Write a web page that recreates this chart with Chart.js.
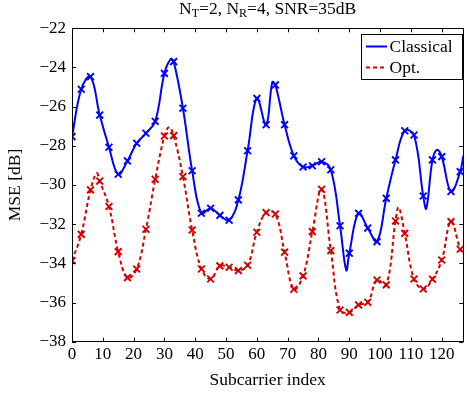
<!DOCTYPE html>
<html>
<head>
<meta charset="utf-8">
<script src="https://cdn.jsdelivr.net/npm/chart.js"></script>
<style>
html, body { margin: 0; padding: 0; background: #fff; overflow: hidden; }
#wrap { width: 468px; height: 394px; overflow: hidden; }
</style>
</head>
<body>
<div id="wrap"><canvas id="mseChart" width="470" height="394"></canvas></div>
<script>

/* data */

const subcarriers = [0, 3, 6, 9, 12, 15, 18, 21, 24, 27, 30, 33, 36, 39, 42, 45, 48, 51, 54, 57, 60,
  63, 66, 69, 72, 75, 78, 81, 84, 87, 90, 93, 96, 99, 102, 105, 108, 111, 114, 117, 120, 123, 126];

const classicalMse = [-27.53, -25.11, -24.47, -26.43, -28.07, -29.45, -28.77, -27.87, -27.36, -26.75, -24.30,
  -23.70, -26.08, -29.27, -31.44, -31.19, -31.55, -31.80, -30.76, -28.25, -25.58,
  -26.92, -24.89, -26.92, -28.51, -29.08, -29.02, -28.81, -29.22, -32.08, -33.48,
  -31.44, -32.20, -32.89, -30.68, -28.72, -27.23, -27.45, -30.56, -28.72, -28.55, -30.33, -29.32];

const optMse = [-33.86, -32.52, -30.25, -29.80, -31.10, -33.40, -34.73, -34.29, -32.26, -29.71, -27.50,
  -27.48, -29.57, -32.30, -34.29, -34.80, -34.13, -34.20, -34.37, -34.10, -32.41,
  -31.41, -31.48, -33.43, -35.32, -34.64, -32.38, -30.22, -33.35, -36.38, -36.50,
  -36.12, -35.99, -34.85, -35.10, -31.84, -32.47, -34.80, -35.31, -34.81, -33.83, -31.87, -33.28];

// curve points between the markers (peaks / dips), no marker drawn
const classicalCurveX = [32, 65, 89, 115, 118.5, 127];
const classicalCurveY = [-23.57, -24.75, -34.35, -31.2, -28.2, -28.5];
const optCurveX = [8, 31.5, 106, 127];
const optCurveY = [-29.4, -27.05, -31.14, -33.5];

const xTicks = [0, 10, 20, 30, 40, 50, 60, 70, 80, 90, 100, 110, 120];
const yTicks = [-38, -36, -34, -32, -30, -28, -26, -24, -22];

const FONT = "'Liberation Serif', 'Times New Roman', serif";


function buildSeries(xs, ys, cx, cy){
  let pts = xs.map((x,i) => ({x: x, y: ys[i], m: true}));
  cx.forEach((x,i) => pts.push({x: x, y: cy[i], m: false}));
  pts.sort((a,b) => a.x - b.x);
  return pts;
}


/* frame, inward ticks, title, legend */

const decor = {
  id: "decor",
  afterDatasetsDraw(chart){
    const c = chart.ctx;
    const a = chart.chartArea;
    const xs = chart.scales.x, ys = chart.scales.y;
    c.save();
    c.strokeStyle = "#000";
    c.lineWidth = 1;
    c.beginPath();
    xTicks.forEach(v => {
      const px = Math.round(xs.getPixelForValue(v)) + 0.5;
      c.moveTo(px, a.bottom); c.lineTo(px, a.bottom - 4);
      c.moveTo(px, a.top); c.lineTo(px, a.top + 4);
    });
    yTicks.forEach(v => {
      const py = Math.round(ys.getPixelForValue(v)) + 0.5;
      c.moveTo(a.left, py); c.lineTo(a.left + 4, py);
      c.moveTo(a.right, py); c.lineTo(a.right - 4, py);
    });
    c.stroke();
    c.strokeRect(Math.round(a.left) + 0.5, Math.round(a.top) + 0.5,
      Math.round(a.right - a.left), Math.round(a.bottom - a.top));
    c.restore();
  },
  afterDraw(chart){
    const c = chart.ctx;
    const a = chart.chartArea;
    c.save();
    c.fillStyle = "#000";

    // title with subscripts
    const parts = [["N",0],["T",1],["=2, N",0],["R",1],["=4, SNR=35dB",0]];
    const big = "17.5px " + FONT, small = "12px " + FONT;
    let total = 0;
    parts.forEach(p => { c.font = p[1] ? small : big; total += c.measureText(p[0]).width; });
    let tx = (a.left + a.right)/2 - total/2;
    c.textBaseline = "alphabetic";
    c.textAlign = "left";
    parts.forEach(p => {
      c.font = p[1] ? small : big;
      c.fillText(p[0], tx, p[1] ? 17 : 13.5);
      tx += c.measureText(p[0]).width;
    });

    // axis titles
    c.font = "17.5px " + FONT;
    c.textAlign = "center";
    c.textBaseline = "middle";
    c.fillText("Subcarrier index", (a.left + a.right)/2, 380.5);
    c.save();
    c.translate(15, (a.top + a.bottom)/2);
    c.rotate(-Math.PI/2);
    c.fillText("MSE [dB]", 0, 0);
    c.restore();

    // legend box
    const bx = 361.5, by = 34.5, bw = 101, bh = 45;
    c.fillStyle = "#fff";
    c.fillRect(bx, by, bw, bh);
    c.strokeStyle = "#000";
    c.lineWidth = 1;
    c.strokeRect(bx, by, bw, bh);
    const rows = [46.5, 67.5];
    chart.data.datasets.forEach((ds, i) => {
      c.strokeStyle = ds.borderColor;
      c.lineWidth = ds.borderWidth;
      c.setLineDash(ds.borderDash || []);
      c.beginPath();
      c.moveTo(366, rows[i]); c.lineTo(387, rows[i]);
      c.stroke();
      c.setLineDash([]);
      c.fillStyle = "#000";
      c.font = "17.5px " + FONT;
      c.textAlign = "left";
      c.textBaseline = "middle";
      c.fillText(ds.label, 389.5, rows[i] + 0.5);
    });
    c.restore();
  }
};


/* Chart */

const ctx = document.getElementById("mseChart").getContext("2d");

const chart = new Chart(ctx, {
  type: "line",
  data: {
    datasets: [{
      label: "Classical",
      data: buildSeries(subcarriers, classicalMse, classicalCurveX, classicalCurveY),
      borderColor: "#0000ff",
      borderWidth: 2,
      tension: 0.4,
      pointStyle: "crossRot",
      pointRadius: c => (c.raw && c.raw.m) ? 4.8 : 0,
      pointBorderWidth: 1.9,
      pointBorderColor: "#0000ff",
      fill: false
    },{
      label: "Opt.",
      data: buildSeries(subcarriers, optMse, optCurveX, optCurveY),
      borderColor: "#d40000",
      borderWidth: 2,
      borderDash: [4, 3],
      tension: 0.4,
      pointStyle: "crossRot",
      pointRadius: c => (c.raw && c.raw.m) ? 4.8 : 0,
      pointBorderWidth: 1.9,
      pointBorderColor: "#d40000",
      fill: false
    }]
  },
  options: {
    responsive: false,
    animation: false,
    devicePixelRatio: 1,
    layout: { padding: { top: 28.3, right: 1.5, left: 0, bottom: 0 } },
    plugins: { legend: { display: false }, title: { display: false }, tooltip: { enabled: false } },
    scales: {
      x: {
        type: "linear",
        min: 0, max: 127,
        afterBuildTicks: s => { s.ticks = xTicks.map(v => ({value: v})); },
        afterFit: s => { s.height = 52.3; },
        grid: { display: false, drawTicks: false },
        border: { display: false },
        ticks: { padding: 3, color: "#000", font: { family: FONT, size: 17 }, maxRotation: 0, autoSkip: false }
      },
      y: {
        min: -38, max: -22,
        afterBuildTicks: s => { s.ticks = yTicks.map(v => ({value: v})); },
        afterFit: s => { s.width = 72; },
        grid: { display: false, drawTicks: false },
        border: { display: false },
        ticks: {
          padding: 6, color: "#000", font: { family: FONT, size: 17 },
          callback: v => (v < 0 ? "\u2212" + Math.abs(v) : "" + v)
        }
      }
    }
  },
  plugins: [decor]
});

</script>
</body>
</html>
